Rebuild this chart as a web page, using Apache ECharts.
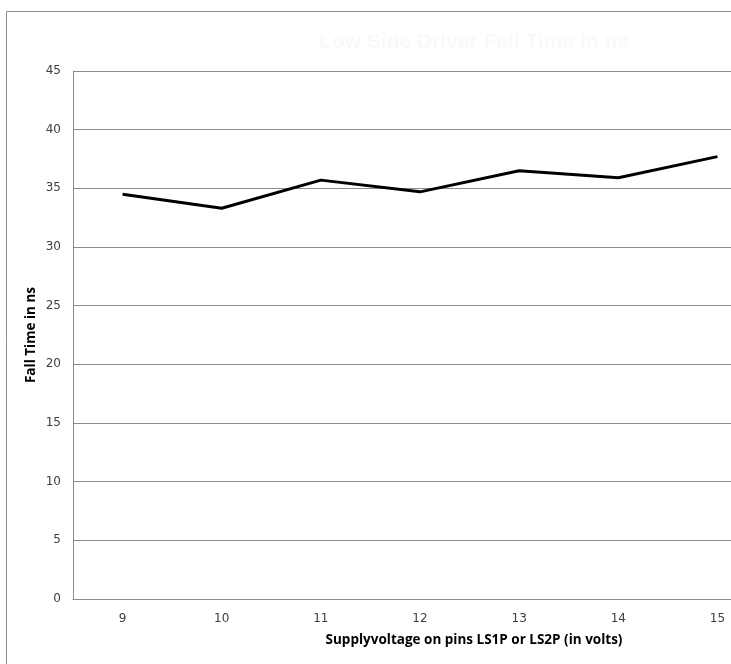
<!DOCTYPE html>
<html>
<head>
<meta charset="utf-8">
<style>
html,body{margin:0;padding:0;background:#fff;overflow:hidden;}
#c{width:731px;height:664px;}
</style>
<script src="https://cdn.jsdelivr.net/npm/echarts@6/dist/echarts.min.js"></script>
</head>
<body>
<div id="c"></div>
<script>
var titleText = "Low Side Driver Fall Time in ns";
var xTitle = "Supplyvoltage on pins LS1P or LS2P (in volts)";
var yTitle = "Fall Time in ns";
var categories = ["9", "10", "11", "12", "13", "14", "15"];
var fallTime = [34.5, 33.3, 35.7, 34.7, 36.5, 35.9, 37.7];

var chart = echarts.init(document.getElementById('c'), null, {renderer: 'canvas'});
chart.setOption({
  animation: false,
  backgroundColor: '#ffffff',
  title: {
    text: titleText,
    left: 469, top: 27, textAlign: 'center',
    textStyle: {color: '#f9f9f9', fontSize: 21, fontWeight: 'bold', fontFamily: 'Liberation Sans'}
  },
  graphic: [
    {type: 'polyline', shape: {points: [[6.5, 664], [6.5, 11.5], [731, 11.5]]}, style: {fill: 'none', stroke: '#8c8c8c', lineWidth: 1}, z: -1},
    {type: 'text', x: 474, y: 640, style: {text: xTitle, fill: '#000', font: 'bold 13.5px "Open Sans"', align: 'center', verticalAlign: 'middle'}},
    {type: 'text', x: 31, y: 335, rotation: Math.PI / 2, style: {text: yTitle, fill: '#000', font: 'bold 13.5px "Open Sans"', align: 'center', verticalAlign: 'middle'}}
  ],
  grid: {left: 73, width: 694, top: 71, height: 528, containLabel: false, outerBoundsMode: 'none'},
  xAxis: {
    type: 'category',
    data: categories,
    boundaryGap: true,
    axisLine: {lineStyle: {color: '#8c8c8c', width: 1}},
    axisTick: {show: false},
    axisLabel: {color: '#404040', fontSize: 12, fontFamily: 'DejaVu Sans', margin: 14}
  },
  yAxis: {
    type: 'value',
    min: 0, max: 45, interval: 5,
    axisLine: {show: true, lineStyle: {color: '#8c8c8c', width: 1}},
    axisTick: {show: false},
    axisLabel: {color: '#404040', fontSize: 12, fontFamily: 'DejaVu Sans', margin: 12},
    splitLine: {lineStyle: {color: '#8c8c8c', width: 1}}
  },
  series: [{
    type: 'line',
    data: fallTime,
    symbol: 'none',
    lineStyle: {color: '#000000', width: 3},
    clip: false
  }]
});
</script>
</body>
</html>
